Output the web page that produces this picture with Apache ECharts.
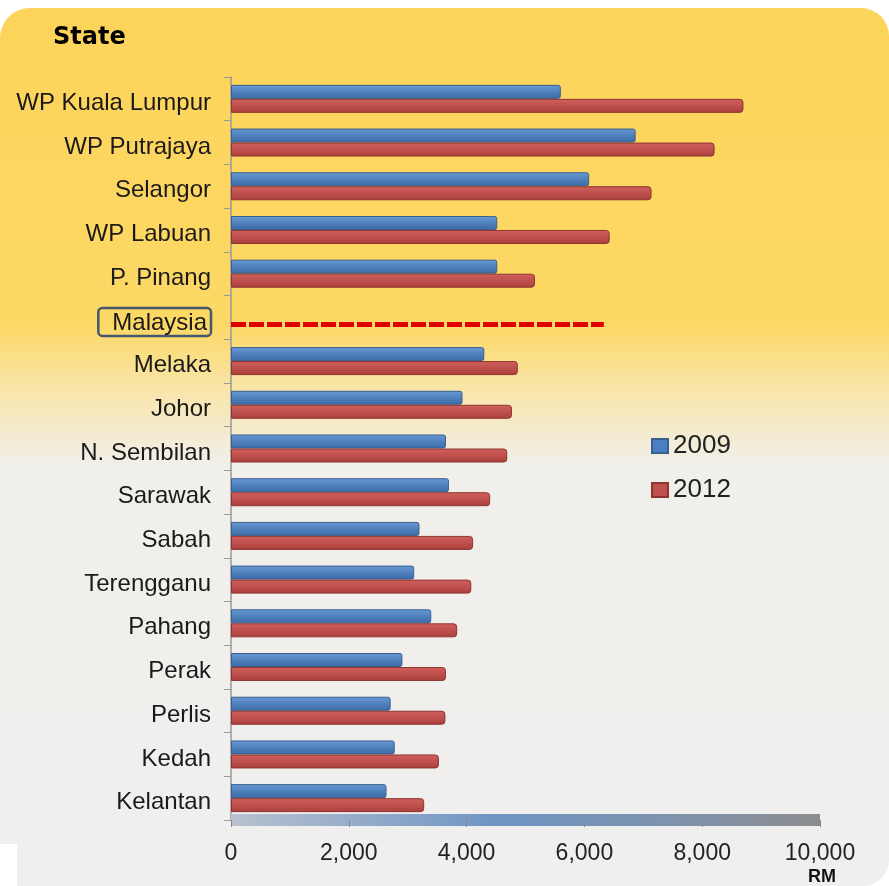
<!DOCTYPE html>
<html>
<head>
<meta charset="utf-8">
<script src="https://cdn.jsdelivr.net/npm/echarts@6/dist/echarts.min.js"></script>
<style>
  html, body { margin: 0; padding: 0; background: #fff; }
  #chart { width: 889px; height: 886px; }
</style>
</head>
<body>
<div id="chart"></div>
<script>
var states = ['WP Kuala Lumpur', 'WP Putrajaya', 'Selangor', 'WP Labuan', 'P. Pinang', 'Malaysia',
    'Melaka', 'Johor', 'N. Sembilan', 'Sarawak', 'Sabah', 'Terengganu', 'Pahang', 'Perak',
    'Perlis', 'Kedah', 'Kelantan'];
var income2009 = [5600, 6870, 6080, 4520, 4520, null, 4300, 3930, 3650, 3700, 3200, 3110, 3400, 2910, 2710, 2780, 2640];
var income2012 = [8700, 8210, 7140, 6430, 5160, null, 4870, 4770, 4690, 4400, 4110, 4080, 3840, 3650, 3640, 3530, 3280];
var malaysiaLevel = 6330;
var xTicks = [0, 2000, 4000, 6000, 8000, 10000];

var font = "'Liberation Sans', Arial, sans-serif";

function vgrad(stops) {
    return new echarts.graphic.LinearGradient(0, 0, 0, 1, stops.map(function (c, i) {
        return { offset: i / (stops.length - 1), color: c };
    }));
}

var option = {
    animation: false,
    graphic: [
        {
            type: 'rect', z: -10, silent: true,
            shape: { x: 0, y: 8, width: 889, height: 878, r: [30, 28, 26, 18] },
            style: {
                fill: new echarts.graphic.LinearGradient(0, 0, 0, 1, [
                    { offset: 0, color: '#fdd45a' },
                    { offset: 0.36, color: '#fcd865' },
                    { offset: 0.44, color: '#f8e6ae' },
                    { offset: 0.52, color: '#f1efea' },
                    { offset: 1, color: '#efefef' }
                ])
            }
        },
        {
            type: 'rect', z: -9, silent: true,
            shape: { x: 0, y: 844, width: 17, height: 42 },
            style: { fill: '#ffffff' }
        },
        {
            type: 'text', left: 53, top: 26,
            style: { text: 'State', font: "bold 24px 'DejaVu Sans', sans-serif", fill: '#000' }
        },
        {
            type: 'text', left: 808, top: 868,
            style: { text: 'RM', font: "bold 18px 'Liberation Sans', Arial, sans-serif", fill: '#111' }
        }
    ],
    legend: {
        orient: 'vertical',
        left: 646,
        top: 428,
        itemWidth: 16,
        itemHeight: 14,
        itemGap: 18,
        icon: 'rect',
        textStyle: { fontFamily: font, fontSize: 26, color: '#222' },
        data: [
            { name: '2009', itemStyle: { color: '#4a7fc4' } },
            { name: '2012', itemStyle: { color: '#c0504d' } }
        ]
    },
    grid: { left: 231, right: 69, top: 77, bottom: 66, containLabel: false },
    xAxis: {
        type: 'value',
        min: 0, max: 10000, interval: 2000,
        axisLine: {
            show: true,
            lineStyle: {
                width: 12,
                cap: 'butt',
                color: new echarts.graphic.LinearGradient(0, 0, 1, 0, [
                    { offset: 0, color: '#b9c2cf' },
                    { offset: 0.45, color: '#6f95c4' },
                    { offset: 0.75, color: '#7f93ad' },
                    { offset: 1, color: '#8c8c8c' }
                ])
            }
        },
        axisTick: { show: true, length: 7, lineStyle: { color: '#888', width: 1 } },
        axisLabel: {
            margin: 22, fontFamily: font, fontSize: 23, color: '#222',
            formatter: function (v) { return xTicks.indexOf(v) >= 0 ? v.toLocaleString('en-US') : ''; }
        },
        splitLine: { show: false }
    },
    yAxis: {
        type: 'category',
        inverse: true,
        data: states,
        axisLine: { show: true, lineStyle: { color: '#9a9a9a', width: 1.5 } },
        axisTick: { show: true, length: 7, lineStyle: { color: '#9a9a9a' } },
        axisLabel: {
            margin: 20,
            fontFamily: font, fontSize: 24, color: '#1a1a1a',
            padding: [9, 0, 0, 0],
            formatter: function (v) { return v === 'Malaysia' ? '{box|' + v + '}' : v; },
            rich: {
                box: {
                    fontFamily: font, fontSize: 24, color: '#1a1a1a',
                    borderColor: '#46586e', borderWidth: 2.5, borderRadius: 4,
                    padding: [3, 4, 1, 14]
                }
            }
        }
    },
    series: [
        {
            name: '2009',
            type: 'bar',
            barWidth: 14,
            barGap: '0%',
            data: income2009,
            itemStyle: {
                color: vgrad(['#6a9ad6', '#4f81bd', '#3d6aa6']),
                borderColor: '#37608f', borderWidth: 1,
                borderRadius: [0, 2, 2, 0]
            }
        },
        {
            name: '2012',
            type: 'bar',
            barWidth: 14,
            data: income2012,
            itemStyle: {
                color: vgrad(['#d0605c', '#c0504d', '#a83f3c']),
                borderColor: '#8e3431', borderWidth: 1,
                borderRadius: [0, 3, 3, 0]
            },
            markLine: {
                silent: true,
                symbol: 'none',
                label: { show: false },
                lineStyle: { color: '#e00000', width: 5, type: [15, 3] },
                data: [[{ coord: [0, 'Malaysia'] }, { coord: [malaysiaLevel, 'Malaysia'] }]]
            }
        }
    ]
};

var myChart = echarts.init(document.getElementById('chart'));
myChart.setOption(option);
</script>
</body>
</html>
